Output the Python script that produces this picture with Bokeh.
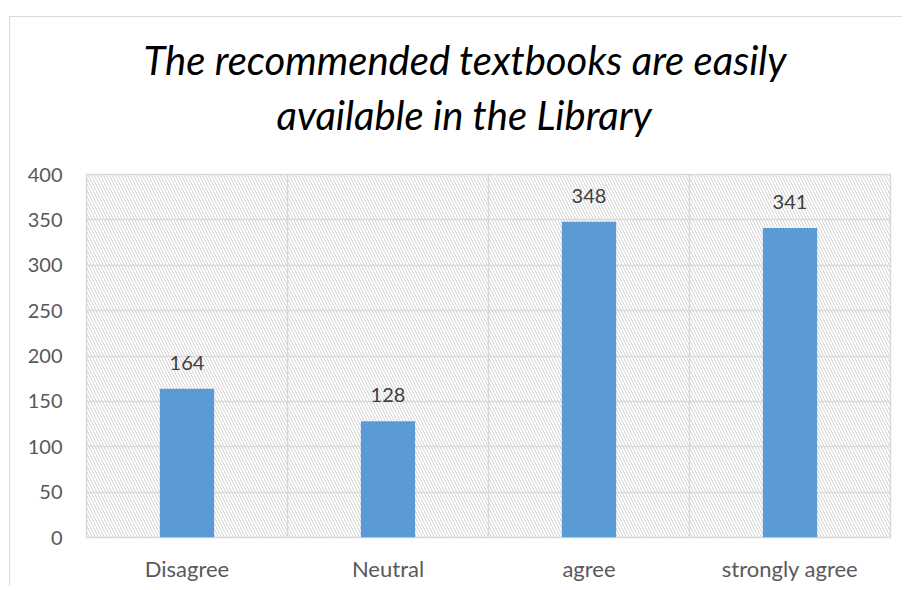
from bokeh.plotting import figure
from bokeh.models import ColumnDataSource, LabelSet, FixedTicker, BoxAnnotation, Title
from bokeh.core.properties import value
from bokeh.embed import file_html
from bokeh.resources import INLINE

# Data
categories = ["Disagree", "Neutral", "agree", "strongly agree"]
counts = [164, 128, 348, 341]
y_ticks = [0, 50, 100, 150, 200, 250, 300, 350, 400]
title_lines = ["The recommended textbooks are easily", "available in the Library"]

positions = [i + 0.5 for i in range(len(categories))]
source = ColumnDataSource(dict(x=positions, top=counts, label=[str(c) for c in counts]))

FONT = "Lato"
GRID = "#d9d9d9"

p = figure(width=893, height=570, x_range=(0, len(categories)), y_range=(0, 400),
           output_backend="svg", toolbar_location=None,
           min_border_left=76, min_border_right=13, min_border_top=157, min_border_bottom=50,
           margin=(16, 0, 0, 9),
           styles={"border-top": "1px solid #d9d9d9", "border-left": "1px solid #d9d9d9"})
p.title = None
p.background_fill_color = "white"
p.border_fill_color = "white"
p.outline_line_color = GRID
p.outline_line_width = 1.5

# hatched plot area background
bg = BoxAnnotation(fill_alpha=0, line_color=None, hatch_pattern="\\", hatch_color="#d3d3d3",
                   hatch_scale=6, hatch_weight=1, level="image")
p.add_layout(bg)

p.vbar(x="x", top="top", width=0.27, source=source, fill_color="#5B9BD5", line_color=None)

labels = LabelSet(x="x", y="top", text="label", source=source, y_offset=26,
                  text_align="center", text_baseline="middle", text_font_size="20px",
                  text_color="#404040", text_font=value(FONT))
p.add_layout(labels)

# grids
p.xgrid.ticker = FixedTicker(ticks=list(range(len(categories) + 1)))
p.ygrid.ticker = FixedTicker(ticks=y_ticks)
for g in (p.xgrid, p.ygrid):
    g.grid_line_color = GRID
    g.grid_line_width = 1.5

# axes
p.xaxis.ticker = FixedTicker(ticks=positions)
p.xaxis.major_label_overrides = {pos: c for pos, c in zip(positions, categories)}
p.yaxis.ticker = FixedTicker(ticks=y_ticks)
for ax in (p.xaxis, p.yaxis):
    ax.axis_line_color = None
    ax.major_tick_line_color = None
    ax.minor_tick_line_color = None
    ax.major_tick_out = 0
    ax.major_tick_in = 0
    ax.major_label_text_font = FONT
    ax.major_label_text_font_size = "20px"
    ax.major_label_text_color = "#595959"
p.xaxis.major_label_text_font_size = "22px"
p.xaxis.major_label_standoff = 17
p.yaxis.major_label_standoff = 24

# spacer between plot and title, then the two title lines
spacer = Title(text=" ", text_font_size="10px", standoff=21)
t2 = Title(text=title_lines[1], align="left", offset=190, standoff=3,
           text_font=FONT, text_font_style="italic", text_font_size="40px",
           text_color="#000000")
t1 = Title(text=title_lines[0], align="left", offset=57, standoff=7,
           text_font=FONT, text_font_style="italic", text_font_size="40px",
           text_color="#000000")
p.add_layout(spacer, "above")
p.add_layout(t2, "above")
p.add_layout(t1, "above")

open("out.html", "w").write(file_html(p, INLINE))
